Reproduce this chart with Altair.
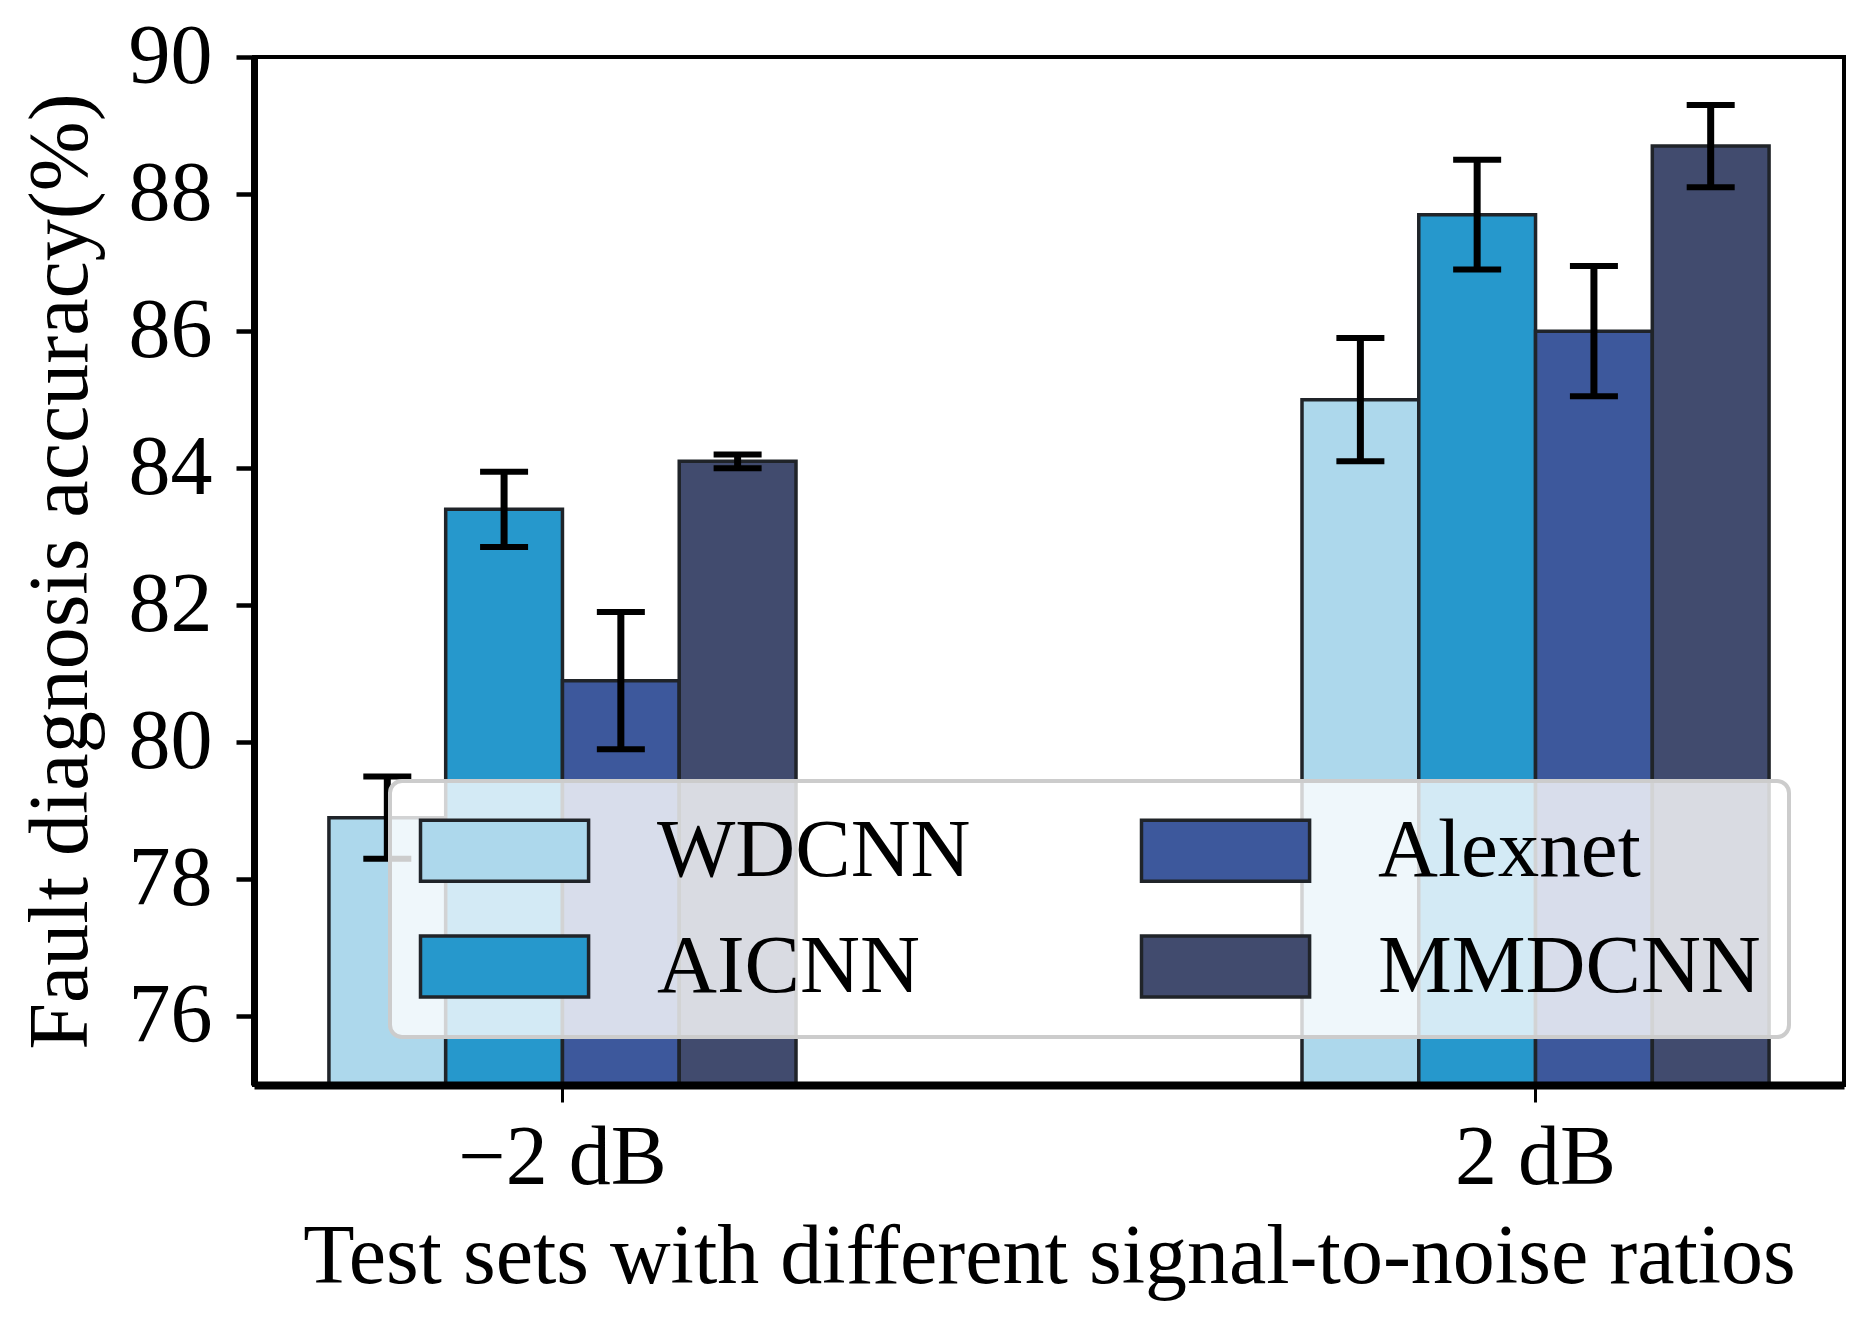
import altair as alt
import pandas as pd

snr = ["−2 dB", "2 dB"]
models = ["WDCNN", "AICNN", "Alexnet", "MMDCNN"]
acc_m2 = [78.9, 83.4, 80.9, 84.1]
err_m2 = [0.6, 0.55, 1.0, 0.1]
acc_p2 = [85.0, 87.7, 86.0, 88.7]
err_p2 = [0.9, 0.8, 0.95, 0.6]
colors = ["#ADD8EC", "#2698CC", "#3D589C", "#414B6E"]
yticks = [76, 78, 80, 82, 84, 86, 88, 90]

rows = []
for s, accs, errs in zip(snr, [acc_m2, acc_p2], [err_m2, err_p2]):
    for m, a, e in zip(models, accs, errs):
        rows.append({"snr": s, "model": m, "acc": a, "lo": a - e, "hi": a + e})
df = pd.DataFrame(rows)

FONT = "Liberation Serif"
FS = 84

xenc = alt.X(
    "snr:N",
    sort=snr,
    scale=alt.Scale(paddingInner=0.52, paddingOuter=0.077),
    axis=alt.Axis(
        title="Test sets with different signal-to-noise ratios",
        labelAngle=0, labelFontSize=FS, titleFontSize=FS,
        labelFont=FONT, titleFont=FONT, titleFontWeight="normal",
        labelColor="black", titleColor="black", labelLimit=1000, titleLimit=3000,
        domainColor="black", domainWidth=8,
        tickColor="black", tickWidth=3, tickSize=17,
        labelPadding=15, titlePadding=16, grid=False, zindex=1,
    ),
)
xoff = alt.XOffset("model:N", sort=models, scale=alt.Scale(domain=models))

base = alt.Chart(df).encode(x=xenc, xOffset=xoff)

bars = base.mark_bar(stroke="#202429", strokeWidth=3.5, opacity=1, clip=True).encode(
    y=alt.Y(
        "acc:Q",
        scale=alt.Scale(domain=[75, 90], nice=False, zero=False),
        axis=alt.Axis(
            values=yticks, format="d", title="Fault diagnosis accuracy(%)",
            labelFontSize=FS, titleFontSize=FS,
            labelFont=FONT, titleFont=FONT, titleFontWeight="normal",
            labelColor="black", titleColor="black", titleLimit=3000,
            domainColor="black", domainWidth=7,
            tickColor="black", tickWidth=4.5, tickSize=18,
            labelPadding=24, titlePadding=24, grid=False, zindex=1,
        ),
    ),
    color=alt.Color(
        "model:N",
        scale=alt.Scale(domain=models, range=colors),
        legend=alt.Legend(
            title=None, orient="none", legendX=136, legendY=724,
            columns=2, columnPadding=163, rowPadding=32,
            symbolType="M-1,-0.782L3.31,-0.782L3.31,0.782L-1,0.782Z",
            symbolSize=6084, symbolStrokeColor="#202429", symbolStrokeWidth=3.5,
            symbolOpacity=1,
            labelFont=FONT, labelFontSize=83, labelColor="black",
            labelOffset=156, labelLimit=0,
            fillColor="rgba(255,255,255,0.8)", strokeColor="#cccccc",
            cornerRadius=12, padding=28,
        ),
    ),
)

rules = base.mark_rule(color="black", strokeWidth=7, opacity=1).encode(y="lo:Q", y2="hi:Q")
cap_lo = base.mark_tick(color="black", thickness=6, size=48, orient="horizontal", opacity=1).encode(y="lo:Q")
cap_hi = base.mark_tick(color="black", thickness=6, size=48, orient="horizontal", opacity=1).encode(y="hi:Q")

chart = (
    alt.layer(bars, rules, cap_lo, cap_hi)
    .properties(width=1590, height=1028, padding={"left": 10, "top": 7, "right": 10, "bottom": 5})
    .configure_view(stroke="black", strokeWidth=4)
    .configure_legend(strokeWidth=4)
)

chart.save("out.html", embed_options={"renderer": "svg", "actions": False})
